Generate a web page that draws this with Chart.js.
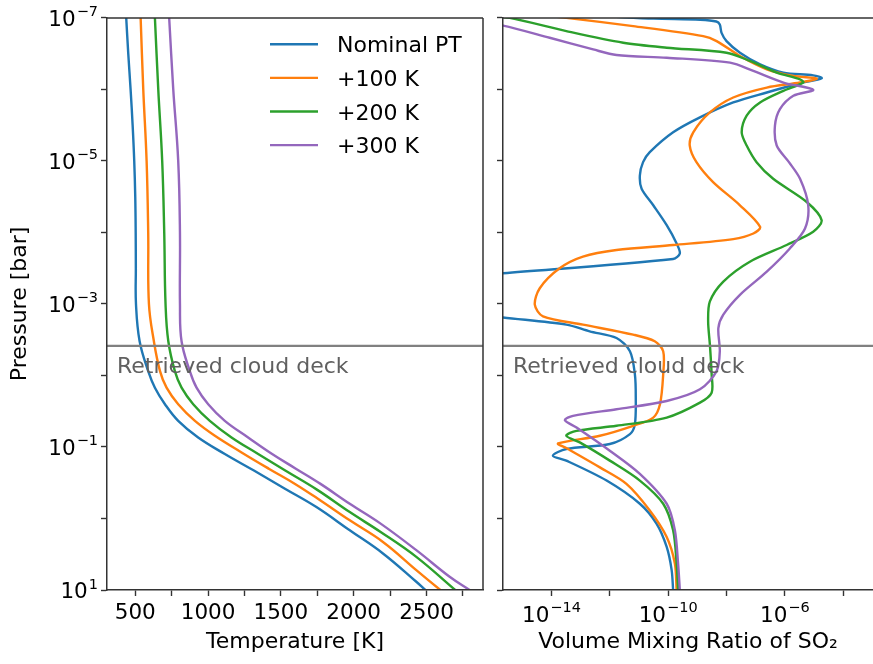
<!DOCTYPE html>
<html>
<head>
<meta charset="utf-8">
<script src="https://cdn.jsdelivr.net/npm/chart.js@4/dist/chart.umd.min.js"></script>
<style>
  html, body { margin: 0; padding: 0; background: #fff; overflow: hidden; }
  #wrap { position: relative; width: 873px; height: 664px; }
  #pt  { position: absolute; left: 0; top: 0; }
  #vmr { position: absolute; left: 490px; top: 0; }
</style>
</head>
<body>
<div id="wrap">
  <canvas id="pt" width="490" height="664"></canvas>
  <canvas id="vmr" width="383" height="664"></canvas>
</div>
<script>
// ---- Series ----
const seriesLabels = ['Nominal PT', '+100 K', '+200 K', '+300 K'];
const seriesColors = ['#1f77b4', '#ff7f0e', '#2ca02c', '#9467bd'];

// Temperature-pressure profiles: log10(pressure / bar) and temperature [K]
const ptNominalLogP = [-7, -6.5, -6, -5.5, -5, -4.5, -4, -3.5, -3, -2.478, -2.061, -1.829, -1.598, -1.365, -1.133, -0.902, -0.67, -0.42, -0.16, 0.165, 0.489, 0.885, 1.0];
const ptNominalT    = [438, 452, 468, 482, 493, 500, 503, 504, 505, 530, 589, 635, 704, 795, 932, 1115, 1315, 1525, 1744, 1973, 2201, 2430, 2492];

const ptPlus100LogP = [-7, -6, -5, -4, -3, -2.478, -2.061, -1.829, -1.598, -1.365, -1.157, -0.924, -0.693, -0.48, -0.252, 0.026, 0.328, 0.722, 1.0];
const ptPlus100T    = [537, 555, 578, 589, 594, 628, 670, 715, 795, 910, 1047, 1230, 1420, 1600, 1772, 1973, 2201, 2430, 2595];

const ptPlus200LogP = [-7, -6, -5, -4, -3, -2.478, -2.061, -1.829, -1.598, -1.365, -1.133, -0.902, -0.67, -0.4, -0.089, 0.189, 0.537, 1.0];
const ptPlus200T    = [635, 658, 685, 699, 708, 727, 772, 818, 898, 1012, 1161, 1344, 1530, 1750, 1973, 2185, 2430, 2697];

const ptPlus300LogP = [-7, -6, -5, -4, -3, -2.478, -2.061, -1.829, -1.598, -1.365, -1.133, -0.902, -0.7, -0.484, -0.206, 0.072, 0.443, 0.815, 1.0];
const ptPlus300T    = [733, 761, 795, 807, 807, 818, 875, 921, 1001, 1115, 1275, 1440, 1600, 1772, 1973, 2185, 2430, 2659, 2796];

// SO2 profiles: log10(pressure / bar) and log10(volume mixing ratio)
const so2NominalLogP = [-7.02, -6.99, -6.975, -6.95, -6.907, -6.791, -6.676, -6.513, -6.35, -6.235, -6.197, -6.155, -6.086, -5.957, -5.817, -5.609, -5.4, -5.122, -4.983, -4.797, -4.611, -4.38, -4.102, -3.846, -3.707, -3.629, -3.429, -3.369, -2.896, -2.812, -2.711, -2.617, -2.524, -2.339, -2.015, -1.69, -1.319, -1.18, -1.041, -0.972, -0.878, -0.809, -0.53, -0.206, 0.072, 0.398, 0.722, 1.0];
const so2NominalLogVmr = [-12.0, -10.5, -8.9, -8.35, -8.23, -8.17, -8.0, -7.54, -6.85, -6.05, -5.03, -4.74, -5.48, -6.62, -7.77, -8.91, -9.83, -10.63, -10.86, -10.97, -10.91, -10.51, -10.05, -9.71, -9.6, -9.83, -15.67, -17.5, -17.3, -15.67, -13.49, -12.69, -11.77, -11.31, -11.14, -11.11, -11.14, -11.31, -12.0, -13.49, -13.95, -13.49, -12.11, -10.97, -10.4, -10.05, -9.88, -9.83];

const so2Plus100LogP = [-7.042, -7.0, -6.885, -6.745, -6.676, -6.467, -6.281, -6.189, -6.151, -6.096, -6.026, -5.887, -5.678, -5.4, -5.215, -4.983, -4.704, -4.38, -4.078, -3.985, -3.907, -3.824, -3.754, -3.661, -3.498, -3.22, -2.989, -2.826, -2.711, -2.571, -2.478, -2.339, -2.015, -1.597, -1.411, -1.296, -1.157, -1.049, -0.985, -0.715, -0.485, -0.113, 0.258, 0.629, 1.0];
const so2Plus100LogVmr = [-14.4, -13.49, -11.2, -8.8, -8.34, -7.54, -6.62, -5.71, -4.91, -5.48, -6.62, -7.77, -8.57, -9.14, -9.26, -9.03, -8.46, -7.54, -6.85, -7.08, -7.77, -9.83, -11.77, -12.92, -13.72, -14.4, -14.57, -14.29, -12.92, -11.2, -10.46, -10.17, -10.17, -10.28, -10.51, -11.2, -12.34, -13.77, -13.49, -12.34, -11.43, -10.63, -10.05, -9.77, -9.71];

const so2Plus200LogP = [-7.042, -7.0, -6.815, -6.652, -6.583, -6.513, -6.398, -6.235, -6.142, -6.096, -5.98, -5.817, -5.632, -5.4, -5.215, -4.983, -4.75, -4.426, -4.171, -4.009, -3.824, -3.591, -3.313, -3.035, -2.757, -2.432, -2.015, -1.759, -1.62, -1.411, -1.296, -1.226, -1.157, -1.064, -0.809, -0.53, -0.206, 0.165, 0.629, 1.0];
const so2Plus200LogVmr = [-16.46, -15.43, -13.49, -11.54, -10.05, -8.0, -7.2, -6.28, -5.48, -5.37, -6.05, -6.85, -7.31, -7.48, -7.31, -6.97, -6.4, -5.25, -4.74, -5.03, -5.94, -7.2, -8.11, -8.57, -8.63, -8.57, -8.51, -8.51, -8.91, -10.05, -11.77, -13.14, -13.49, -13.03, -12.0, -10.97, -10.17, -9.83, -9.71, -9.66];

const so2Plus300LogP = [-6.93, -6.893, -6.722, -6.559, -6.481, -6.443, -6.374, -6.258, -6.096, -5.994, -5.911, -5.724, -5.493, -5.215, -4.983, -4.75, -4.38, -4.055, -3.776, -3.452, -3.128, -2.85, -2.663, -2.339, -2.061, -1.806, -1.643, -1.528, -1.435, -1.375, -1.272, -0.948, -0.624, -0.206, 0.165, 0.629, 1.0];
const so2Plus300LogVmr = [-16.46, -15.66, -14.06, -12.57, -11.77, -10.05, -7.88, -7.08, -6.05, -5.03, -5.71, -6.17, -6.34, -6.28, -5.86, -5.48, -5.2, -5.31, -5.83, -6.62, -7.54, -8.11, -8.28, -8.23, -8.34, -8.91, -10.05, -11.77, -13.26, -13.54, -13.14, -12.0, -10.97, -10.05, -9.77, -9.66, -9.6];

// Retrieved cloud-top pressure [bar]
const cloudDeckPressure = 3.86e-3;
const cloudDeckLabel = 'Retrieved cloud deck';

// ---- Axes ----
const tempMin = 306, tempMax = 2888;
const tempTicks = [500, 750, 1000, 1250, 1500, 1750, 2000, 2250, 2500, 2750];
const tempLabelStep = 500;
const pressureMin = 1e-7, pressureMax = 10;
const pressureTickExps = [-7, -6, -5, -4, -3, -2, -1, 0, 1];
const pressureLabelExps = [-7, -5, -3, -1, 1];
const vmrMinExp = -15.66, vmrMaxExp = -2.98;
const vmrTickExps = [-14, -12, -10, -8, -6, -4];
const vmrLabelExps = [-14, -10, -6];

// ---- Styling helpers ----
const FONT = 'DejaVu Sans';
const INK = '#000';
const SPINE = '#333';
const TICK_FONT = 21.5;
const EXP_FONT = 14.5;
Chart.defaults.font.family = FONT;
Chart.defaults.color = INK;

const expOf = v => Math.round(Math.log10(v));

const ptPoints = (logP, temps) => logP.map((lp, i) => ({ x: temps[i], y: Math.pow(10, lp) }));
const vmrPoints = (logP, logV) => logP.map((lp, i) => ({ x: Math.pow(10, logV[i]), y: Math.pow(10, lp) }));

const ptData = [
  ptPoints(ptNominalLogP, ptNominalT),
  ptPoints(ptPlus100LogP, ptPlus100T),
  ptPoints(ptPlus200LogP, ptPlus200T),
  ptPoints(ptPlus300LogP, ptPlus300T)
];
const so2Data = [
  vmrPoints(so2NominalLogP, so2NominalLogVmr),
  vmrPoints(so2Plus100LogP, so2Plus100LogVmr),
  vmrPoints(so2Plus200LogP, so2Plus200LogVmr),
  vmrPoints(so2Plus300LogP, so2Plus300LogVmr)
];

function profileDatasets(dataSets, xLo, xHi, tension) {
  const ds = dataSets.map((pts, i) => ({
    label: seriesLabels[i],
    data: pts,
    borderColor: seriesColors[i],
    backgroundColor: seriesColors[i],
    borderWidth: 2.4,
    pointRadius: 0,
    tension: tension,
    fill: false,
    clip: 0,
    order: dataSets.length - i
  }));
  ds.push({
    label: cloudDeckLabel,
    data: [{ x: xLo, y: cloudDeckPressure }, { x: xHi, y: cloudDeckPressure }],
    borderColor: '#808080',
    borderWidth: 2.2,
    pointRadius: 0,
    tension: 0,
    clip: 0,
    order: 0
  });
  return ds;
}

const tickGrid = { display: true, drawOnChartArea: false, drawTicks: true, tickLength: 6, tickWidth: 1.4, tickColor: SPINE };
const spine = { display: true, color: SPINE, width: 1.5, z: 1 };

function pressureAxis(showTitle, width) {
  return {
    type: 'logarithmic',
    reverse: true,
    min: pressureMin,
    max: pressureMax,
    afterBuildTicks: s => { s.ticks = pressureTickExps.map(e => ({ value: Math.pow(10, e) })); },
    afterFit: s => { s.width = width; },
    grid: tickGrid,
    border: spine,
    ticks: { autoSkip: false, padding: 5, font: { size: TICK_FONT }, callback: () => '' },
    title: {
      display: showTitle,
      text: 'Pressure [bar]',
      color: INK,
      font: { size: 22 },
      padding: { top: 7, bottom: 0 }
    }
  };
}

function xTitle(text) {
  return { display: true, text, color: INK, font: { size: 22 }, padding: { top: 0, bottom: 9 } };
}

// Writes "10" with a raised exponent; anchor is the right edge or the centre.
function drawPower(ctx, exp, x, baseline, align) {
  const base = '10';
  const sup = (exp < 0 ? '\u2212' : '') + Math.abs(exp);
  ctx.font = TICK_FONT + 'px "' + FONT + '"';
  const wb = ctx.measureText(base).width;
  ctx.font = EXP_FONT + 'px "' + FONT + '"';
  const ws = ctx.measureText(sup).width;
  const total = wb + 1 + ws;
  const x0 = align === 'right' ? x - total : x - total / 2;
  ctx.textAlign = 'left';
  ctx.textBaseline = 'alphabetic';
  ctx.font = TICK_FONT + 'px "' + FONT + '"';
  ctx.fillText(base, x0, baseline);
  ctx.font = EXP_FONT + 'px "' + FONT + '"';
  ctx.fillText(sup, x0 + wb + 1, baseline - 9.5);
}

// Power-of-ten tick labels on logarithmic axes
const powerTicks = {
  id: 'powerTicks',
  afterDraw(chart, args, opts) {
    const ctx = chart.ctx;
    ctx.save();
    ctx.fillStyle = INK;
    if (opts.y) {
      const s = chart.scales.y;
      s.ticks.forEach(t => {
        const e = expOf(t.value);
        if (opts.y.includes(e)) drawPower(ctx, e, s.right - 6 - 3, s.getPixelForValue(t.value) + 8, 'right');
      });
    }
    if (opts.x) {
      const s = chart.scales.x;
      s.ticks.forEach(t => {
        const e = expOf(t.value);
        if (opts.x.includes(e)) drawPower(ctx, e, s.getPixelForValue(t.value), s.top + 31.5, 'center');
      });
    }
    ctx.restore();
  }
};

// Top spine (and right spine when asked), cloud-deck caption, legend
const panelDecor = {
  id: 'panelDecor',
  afterDatasetsDraw(chart, args, opts) {
    const { ctx, chartArea: a } = chart;
    ctx.save();
    ctx.strokeStyle = SPINE;
    ctx.lineWidth = 1.5;
    ctx.beginPath();
    ctx.moveTo(a.left, a.top);
    ctx.lineTo(a.right, a.top);
    if (opts.rightSpine) {
      ctx.moveTo(a.right, a.top);
      ctx.lineTo(a.right, a.bottom);
    }
    ctx.stroke();

    const yCloud = chart.scales.y.getPixelForValue(cloudDeckPressure);
    ctx.fillStyle = '#606060';
    ctx.font = '22px "' + FONT + '"';
    ctx.textAlign = 'left';
    ctx.textBaseline = 'alphabetic';
    ctx.fillText(cloudDeckLabel, a.left + 10, yCloud + 27);

    if (opts.legend) {
      const x0 = 270, x1 = 318, xt = 337, y0 = 44.3, dy = 33.6;
      seriesLabels.forEach((lab, i) => {
        const y = y0 + i * dy;
        ctx.strokeStyle = seriesColors[i];
        ctx.lineWidth = 2.4;
        ctx.beginPath();
        ctx.moveTo(x0, y);
        ctx.lineTo(x1, y);
        ctx.stroke();
        ctx.fillStyle = INK;
        ctx.fillText(lab, xt, y + 8);
      });
    }
    ctx.restore();
  }
};

const common = {
  responsive: false,
  animation: false,
  events: []
};

// Left panel: temperature profiles
new Chart(document.getElementById('pt'), {
  type: 'line',
  data: { datasets: profileDatasets(ptData, tempMin, tempMax, 0.4) },
  plugins: [panelDecor, powerTicks],
  options: {
    ...common,
    layout: { padding: { left: 0, right: 7, top: 15, bottom: 0 } },
    plugins: {
      legend: { display: false },
      tooltip: { enabled: false },
      panelDecor: { rightSpine: true, legend: true },
      powerTicks: { y: pressureLabelExps }
    },
    scales: {
      x: {
        type: 'linear',
        min: tempMin,
        max: tempMax,
        afterBuildTicks: s => { s.ticks = tempTicks.map(v => ({ value: v })); },
        afterFit: s => { s.height = 74; },
        grid: tickGrid,
        border: spine,
        ticks: {
          autoSkip: false,
          maxRotation: 0,
          padding: 5,
          color: INK,
          font: { size: TICK_FONT },
          callback: v => (v % tempLabelStep === 0 ? String(v) : '')
        },
        title: xTitle('Temperature [K]')
      },
      y: pressureAxis(true, 107)
    }
  }
});

// Right panel: SO2 abundance profiles
new Chart(document.getElementById('vmr'), {
  type: 'line',
  data: { datasets: profileDatasets(so2Data, Math.pow(10, vmrMinExp), Math.pow(10, vmrMaxExp), 0.3) },
  plugins: [panelDecor, powerTicks],
  options: {
    ...common,
    layout: { padding: { left: 0, right: 0, top: 15, bottom: 0 } },
    plugins: {
      legend: { display: false },
      tooltip: { enabled: false },
      panelDecor: { rightSpine: false, legend: false },
      powerTicks: { x: vmrLabelExps }
    },
    scales: {
      x: {
        type: 'logarithmic',
        min: Math.pow(10, vmrMinExp),
        max: Math.pow(10, vmrMaxExp),
        afterBuildTicks: s => { s.ticks = vmrTickExps.map(e => ({ value: Math.pow(10, e) })); },
        afterFit: s => { s.height = 74; },
        grid: tickGrid,
        border: spine,
        ticks: { autoSkip: false, maxRotation: 0, padding: 5, font: { size: TICK_FONT }, callback: () => '' },
        title: xTitle('Volume Mixing Ratio of SO\u2082')
      },
      y: pressureAxis(false, 13)
    }
  }
});
</script>
</body>
</html>
